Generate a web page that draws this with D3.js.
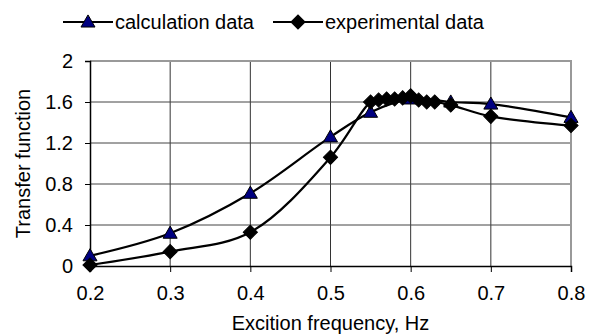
<!DOCTYPE html>
<head>
    <title>Transfer function</title>
    <script src="https://cdn.jsdelivr.net/npm/d3@7"></script>
    <style>
        body { margin: 0; background: #fff; }
        text { font-family: "Liberation Sans", Arial, sans-serif; }
    </style>
</head>
<body>
<div id="container"></div>
<script>
// Données
const calcFreq = [0.2, 0.3, 0.4, 0.5, 0.55, 0.6, 0.65, 0.7, 0.8];
const calcValues = [0.1, 0.32, 0.71, 1.26, 1.5, 1.63, 1.6, 1.58, 1.45];
const expFreq = [0.2, 0.3, 0.4, 0.5, 0.55, 0.56, 0.57, 0.58, 0.59, 0.6, 0.61, 0.62, 0.63, 0.65, 0.7, 0.8];
const expValues = [0.01, 0.14, 0.33, 1.06, 1.6, 1.62, 1.63, 1.63, 1.64, 1.66, 1.62, 1.6, 1.6, 1.57, 1.46, 1.37];
const xTicks = [0.2, 0.3, 0.4, 0.5, 0.6, 0.7, 0.8];
const yTicks = [0, 0.4, 0.8, 1.2, 1.6, 2];

const width = 594;
const height = 336;
const marginLeft = 90, marginRight = 23, marginTop = 61, marginBottom = 70;

const svg = d3.create("svg")
    .attr("width", width)
    .attr("height", height);

const x = d3.scaleLinear().domain([0.2, 0.8]).range([marginLeft, width - marginRight]);
const y = d3.scaleLinear().domain([0, 2]).range([height - marginBottom, marginTop]);

// Grille
svg.append("g")
    .selectAll("line")
    .data(xTicks.slice(1, -1))
    .join("line")
    .attr("x1", d => x(d)).attr("x2", d => x(d))
    .attr("y1", y(0)).attr("y2", y(2))
    .attr("stroke", "#333").attr("stroke-width", 1);
svg.append("g")
    .selectAll("line")
    .data(yTicks.slice(1, -1))
    .join("line")
    .attr("x1", x(0.2)).attr("x2", x(0.8))
    .attr("y1", d => y(d)).attr("y2", d => y(d))
    .attr("stroke", "#444").attr("stroke-width", 1);

// Cadre gris (haut et droite)
svg.append("path")
    .attr("d", `M${x(0.2)},${y(2)}H${x(0.8)}V${y(0)}`)
    .attr("fill", "none").attr("stroke", "#999").attr("stroke-width", 2);

// Axes
const xAxis = svg.append("g")
    .attr("transform", `translate(0,${y(0)})`)
    .call(d3.axisBottom(x).tickValues(xTicks).tickFormat(d3.format(".1f")).tickSize(6).tickPadding(14));
const yAxis = svg.append("g")
    .attr("transform", `translate(${x(0.2)},0)`)
    .call(d3.axisLeft(y).tickValues(yTicks).tickFormat(d => d).tickSize(5).tickPadding(12));
[xAxis, yAxis].forEach(a => {
    a.select(".domain").attr("stroke", "#000").attr("stroke-width", 1.5);
    a.selectAll(".tick line").attr("stroke", "#000");
    a.selectAll("text").style("font-size", "20px").attr("fill", "#000");
});

// Titres
svg.append("text")
    .attr("x", (x(0.2) + x(0.8)) / 2)
    .attr("y", 330)
    .attr("text-anchor", "middle")
    .style("font-size", "20px")
    .text("Excition frequency, Hz");
svg.append("text")
    .attr("transform", `translate(30,${(y(0) + y(2)) / 2}) rotate(-90)`)
    .attr("text-anchor", "middle")
    .style("font-size", "20px")
    .text("Transfer function");

// Courbes lissées
const line = d3.line()
    .x(d => x(d[0]))
    .y(d => y(d[1]))
    .curve(d3.curveCatmullRom.alpha(0.5));

const calc = calcFreq.map((f, i) => [f, calcValues[i]]);
const exp = expFreq.map((f, i) => [f, expValues[i]]);

svg.append("path").datum(calc).attr("d", line)
    .attr("fill", "none").attr("stroke", "#000").attr("stroke-width", 2.2);
svg.append("path").datum(exp).attr("d", line)
    .attr("fill", "none").attr("stroke", "#000").attr("stroke-width", 2.2);

const tri = d3.symbol().type(d3.symbolTriangle).size(85);
const dia = d3.symbol().type(d3.symbolSquare).size(100);

svg.append("g").selectAll("path")
    .data(calc)
    .join("path")
    .attr("d", tri)
    .attr("transform", d => `translate(${x(d[0])},${y(d[1]) + 1})`)
    .attr("fill", "#000080").attr("stroke", "#000").attr("stroke-width", 1);
svg.append("g").selectAll("path")
    .data(exp)
    .join("path")
    .attr("d", dia)
    .attr("transform", d => `translate(${x(d[0])},${y(d[1])}) rotate(45)`)
    .attr("fill", "#000").attr("stroke", "#000").attr("stroke-width", 1);

// Légende
const legend = svg.append("g").attr("transform", "translate(0,22)");
const items = [
    {label: "calculation data", x0: 63, sym: tri, fill: "#000080", rot: 0},
    {label: "experimental data", x0: 273, sym: dia, fill: "#000", rot: 45}
];
items.forEach(it => {
    legend.append("line")
        .attr("x1", it.x0).attr("x2", it.x0 + 50)
        .attr("stroke", "#000").attr("stroke-width", 2);
    legend.append("path")
        .attr("d", it.sym)
        .attr("transform", `translate(${it.x0 + 25},${it.rot ? 0 : 1}) rotate(${it.rot})`)
        .attr("fill", it.fill).attr("stroke", "#000");
    legend.append("text")
        .attr("x", it.x0 + 52).attr("y", 7)
        .style("font-size", "20px")
        .text(it.label);
});

container.append(svg.node());
</script>
</body>
